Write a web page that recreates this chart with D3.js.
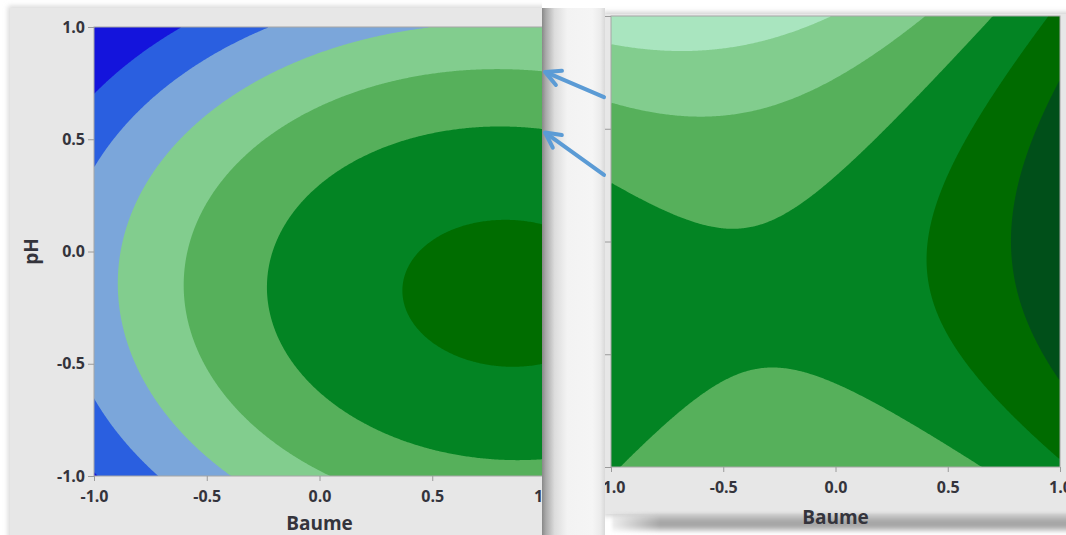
<!DOCTYPE html>
<html>
<head>
<meta charset="utf-8">
<script src="https://cdn.jsdelivr.net/npm/d3@7"></script>
<style>
  html, body { margin: 0; padding: 0; background: #ffffff; }
  svg { display: block; }
  text { font-family: "Open Sans", "Segoe UI", sans-serif; }
</style>
</head>
<body>
<svg id="chart" width="1066" height="535"></svg>
<script>
// Axis ticks shared by both contour panels (coded units)
const tickValues = [-1.0, -0.5, 0.0, 0.5, 1.0];
const xTitle = "Baume";
const yTitle = "pH";

// Fitted response-surface coefficients
// terms: [1, Baume, pH, Baume², Baume·pH, pH²]
const leftCoef  = [5.419, 1.791, -0.743, -1.078, -0.113, -2.25];
const rightCoef = [0.310, 1.147, -0.578,  1.299,  0.748, -1.70];

// Contour levels and band fills (lowest band first)
const leftLevels  = [1, 2, 3, 4, 5, 6];
const leftColors  = ["#1414dc", "#2a5fe0", "#7ba6da", "#82cd8e", "#56b05b", "#038423", "#006d00"];
const rightLevels = [-2, -1, 0, 1, 2];
const rightColors = ["#a9e5bf", "#82cd8e", "#56b05b", "#038423", "#006b00", "#004f19"];

const svg = d3.select("#chart");
const defs = svg.append("defs");

// ---------- shared helpers ----------
function surface(coef, n) {
  const v = new Float64Array(n * n);
  for (let j = 0; j < n; j++) {
    const ph = 1 - 2 * (j + 0.5) / n;
    for (let i = 0; i < n; i++) {
      const b = -1 + 2 * (i + 0.5) / n;
      v[j * n + i] = coef[0] + coef[1] * b + coef[2] * ph +
                     coef[3] * b * b + coef[4] * b * ph + coef[5] * ph * ph;
    }
  }
  return v;
}

function drawContours(g, coef, levels, colors, x, y, id) {
  const n = 320;
  const values = surface(coef, n);
  const bands = d3.contours().size([n, n]).thresholds(levels)(values);
  const proj = d3.geoTransform({
    point(px, py) { this.stream.point(x(-1 + 2 * px / n), y(1 - 2 * py / n)); }
  });
  const path = d3.geoPath(proj);
  const [x0, x1] = x.range(), [y1, y0] = y.range();
  defs.append("clipPath").attr("id", id)
    .append("rect").attr("x", x0).attr("y", y0).attr("width", x1 - x0).attr("height", y1 - y0);
  const plot = g.append("g").attr("clip-path", `url(#${id})`);
  plot.append("rect").attr("x", x0).attr("y", y0)
    .attr("width", x1 - x0).attr("height", y1 - y0).attr("fill", colors[0]);
  plot.selectAll("path.band").data(bands).join("path")
    .attr("class", "band").attr("d", path).attr("fill", (d, i) => colors[i + 1]);
  g.append("rect").attr("x", x0).attr("y", y0)
    .attr("width", x1 - x0).attr("height", y1 - y0)
    .attr("fill", "none").attr("stroke", "#a6a6a6").attr("stroke-width", 1);
}

function styleAxis(a) {
  a.select(".domain").remove();
  a.selectAll(".tick line").attr("stroke", "#9a9a9a");
  a.selectAll(".tick text")
    .attr("fill", "#34343c").attr("font-size", 16).attr("font-weight", 700)
    .attr("font-family", "'Open Sans','Segoe UI',sans-serif");
}

function drawAxes(g, x, y) {
  const fmt = d => d.toFixed(1);
  g.append("g").attr("transform", `translate(${x.range()[0]},0)`)
    .call(d3.axisLeft(y).tickValues(tickValues).tickFormat(fmt).tickSize(6).tickSizeOuter(0).tickPadding(3))
    .call(styleAxis);
  g.append("g").attr("transform", `translate(0,${y.range()[0]})`)
    .call(d3.axisBottom(x).tickValues(tickValues).tickFormat(fmt).tickSize(5).tickSizeOuter(0).tickPadding(10))
    .call(styleAxis);
}

// ---------- filters / gradients ----------
const soft = defs.append("filter").attr("id", "soft").attr("x", "-10%").attr("y", "-10%")
  .attr("width", "120%").attr("height", "120%");
soft.append("feGaussianBlur").attr("stdDeviation", 2.5);

const soft2 = defs.append("filter").attr("id", "soft2").attr("x", "-10%").attr("y", "-50%")
  .attr("width", "120%").attr("height", "200%");
soft2.append("feGaussianBlur").attr("stdDeviation", 1.5);

function linGrad(id, x1, y1, x2, y2, stops) {
  const lg = defs.append("linearGradient").attr("id", id)
    .attr("x1", x1).attr("y1", y1).attr("x2", x2).attr("y2", y2);
  stops.forEach(([o, c]) => lg.append("stop").attr("offset", o).attr("stop-color", c));
}
linGrad("gapShade", 0, 0, 1, 0, [[0, "#888888"], [0.06, "#a9a9a9"], [0.2, "#dcdcdc"], [0.4, "#f3f3f3"],
                                 [0.8, "#f5f5f5"], [0.93, "#ebebeb"], [1, "#d9d9d9"]]);
linGrad("bottomShade", 0, 0, 0, 1, [[0, "#d6d6d6"], [0.4, "#a8a8a8"], [0.65, "#a4a4a4"], [1, "#f6f6f6"]]);
linGrad("fadeIn", 0, 0, 1, 0, [[0, "#000"], [0.13, "#fff"], [1, "#fff"]]);
const fadeMask = defs.append("mask").attr("id", "fadeMask")
  .attr("maskUnits", "userSpaceOnUse").attr("x", 600).attr("y", 500).attr("width", 466).attr("height", 35);
fadeMask.append("rect").attr("x", 600).attr("y", 500).attr("width", 466).attr("height", 35)
  .attr("fill", "url(#fadeIn)");

// ---------- right panel ----------
defs.append("clipPath").attr("id", "rightPanel")
  .append("rect").attr("x", 605).attr("y", 0).attr("width", 461).attr("height", 535);
const right = svg.append("g").attr("clip-path", "url(#rightPanel)");
const xR = d3.scaleLinear().domain([-1, 1]).range([611, 1060]);
const yR = d3.scaleLinear().domain([-1, 1]).range([467, 16]);

right.append("rect").attr("x", 603).attr("y", 12).attr("width", 470).attr("height", 504)
  .attr("fill", "#d2d2d2").attr("filter", "url(#soft)");
right.append("rect").attr("x", 605).attr("y", 14).attr("width", 470).attr("height", 500)
  .attr("fill", "#e7e7e7");
right.append("rect").attr("x", 612).attr("y", 513).attr("width", 460).attr("height", 20)
  .attr("fill", "url(#bottomShade)").attr("filter", "url(#soft2)").attr("mask", "url(#fadeMask)");
drawContours(right, rightCoef, rightLevels, rightColors, xR, yR, "rightPlot");
drawAxes(right, xR, yR);
right.append("text").attr("x", d3.mean(xR.range())).attr("y", 524)
  .attr("text-anchor", "middle").attr("font-size", 19).attr("font-weight", 700)
  .attr("fill", "#34343c").text(xTitle);

// ---------- gap between the panels ----------
svg.append("rect").attr("x", 542).attr("y", 8).attr("width", 63).attr("height", 527)
  .attr("fill", "url(#gapShade)");

// ---------- left panel ----------
defs.append("clipPath").attr("id", "leftPanel")
  .append("rect").attr("x", 0).attr("y", 0).attr("width", 542).attr("height", 535);
const left = svg.append("g").attr("clip-path", "url(#leftPanel)");
const xL = d3.scaleLinear().domain([-1, 1]).range([94, 545]);
const yL = d3.scaleLinear().domain([-1, 1]).range([476, 27]);

left.append("rect").attr("x", 8).attr("y", 6).attr("width", 560).attr("height", 540)
  .attr("fill", "#d8d8d8").attr("filter", "url(#soft)");
left.append("rect").attr("x", 10).attr("y", 8).attr("width", 560).attr("height", 540)
  .attr("fill", "#e7e7e7");
drawContours(left, leftCoef, leftLevels, leftColors, xL, yL, "leftPlot");
drawAxes(left, xL, yL);
left.append("text").attr("x", d3.mean(xL.range())).attr("y", 530)
  .attr("text-anchor", "middle").attr("font-size", 19).attr("font-weight", 700)
  .attr("fill", "#34343c").text(xTitle);
left.append("text").attr("transform", `translate(31,${d3.mean(yL.range())}) rotate(-90)`)
  .attr("text-anchor", "middle").attr("dominant-baseline", "central")
  .attr("font-size", 19).attr("font-weight", 700).attr("fill", "#34343c").text(yTitle);

// ---------- arrows linking matching contour bands ----------
const arrowLinks = [
  { fromPH: 0.64, toPH: 0.80 },
  { fromPH: 0.295, toPH: 0.53 }
];
const arrows = svg.append("g").attr("stroke", "#5b9bd5").attr("stroke-width", 4)
  .attr("stroke-linecap", "round").attr("stroke-linejoin", "round").attr("fill", "none");
arrowLinks.forEach(a => {
  const tx = 545, ty = yL(a.toPH), sx = 604, sy = yR(a.fromPH);
  const ang = Math.atan2(sy - ty, sx - tx);
  const len = 17, spread = 27 * Math.PI / 180;
  arrows.append("line").attr("x1", sx).attr("y1", sy).attr("x2", tx + 2 * Math.cos(ang)).attr("y2", ty + 2 * Math.sin(ang));
  arrows.append("path").attr("d", d3.line()([
    [tx + len * Math.cos(ang - spread), ty + len * Math.sin(ang - spread)],
    [tx, ty],
    [tx + len * Math.cos(ang + spread), ty + len * Math.sin(ang + spread)]
  ]));
});
</script>
</body>
</html>
